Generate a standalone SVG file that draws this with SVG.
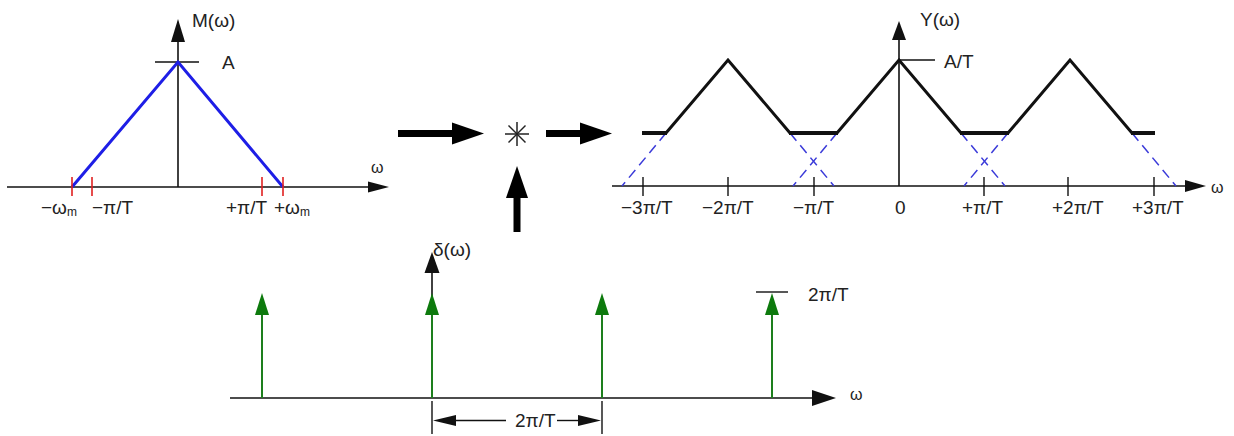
<svg xmlns="http://www.w3.org/2000/svg" width="1234" height="436" viewBox="0 0 1234 436">
<style>
text{font-family:"Liberation Sans",Arial,sans-serif;font-size:19px;fill:#222}
.ax{stroke:#111;stroke-width:1.6;fill:none}
.tk{stroke:#111;stroke-width:1.4}
.rd{stroke:#e02020;stroke-width:1.6}
.bl{stroke:#1e1ee6;stroke-width:3;fill:none}
.bk{stroke:#111;stroke-width:3;fill:none;stroke-linejoin:miter}
.ds{stroke:#3b3bd9;stroke-width:1.5;stroke-dasharray:10,6;fill:none}
.gr{stroke:#1d7f1d;stroke-width:2}
.grh{fill:#0d7a0d}
.ah{fill:#111}
.sm{font-size:16px}
</style>
<rect width="1234" height="436" fill="#fff"/>

<g id="plot-M">
  <line class="ax" x1="7" y1="187" x2="372" y2="187"/>
  <polygon class="ah" points="368,181.5 389,187 368,192.5"/>
  <line class="ax" x1="178" y1="187" x2="178" y2="40"/>
  <polygon class="ah" points="171,42 178,19 185,42"/>
  <line class="tk" x1="155" y1="62" x2="199" y2="62"/>
  <polyline class="bl" points="72,187 178,62 283,187"/>
  <line class="rd" x1="72" y1="177" x2="72" y2="196"/>
  <line class="rd" x1="92" y1="177" x2="92" y2="196"/>
  <line class="rd" x1="262" y1="177" x2="262" y2="196"/>
  <line class="rd" x1="283" y1="177" x2="283" y2="196"/>
  <text x="192" y="27">M(ω)</text>
  <text x="222" y="69">A</text>
  <text class="sm" x="371" y="173">ω</text>
  <text x="41" y="214">−ω<tspan font-size="12" dy="2">m</tspan></text>
  <text x="92" y="214">−π/T</text>
  <text x="226" y="214">+π/T</text>
  <text x="274" y="214">+ω<tspan font-size="12" dy="2">m</tspan></text>
</g>

<g id="operator">
  <line stroke="#222" stroke-width="1.5" x1="517" y1="122" x2="517" y2="146"/>
  <line stroke="#222" stroke-width="1.5" x1="505" y1="134" x2="529" y2="134"/>
  <line stroke="#222" stroke-width="1.5" x1="508.5" y1="125.5" x2="525.5" y2="142.5"/>
  <line stroke="#222" stroke-width="1.5" x1="525.5" y1="125.5" x2="508.5" y2="142.5"/>
</g>

<g id="connectors">
  <line stroke="#000" stroke-width="7" x1="398" y1="133.5" x2="455" y2="133.5"/>
  <polygon fill="#000" points="452,122.5 484,133.5 452,144.5"/>
  <line stroke="#000" stroke-width="7" x1="546" y1="133.5" x2="583" y2="133.5"/>
  <polygon fill="#000" points="580,122.5 612,133.5 580,144.5"/>
  <line stroke="#000" stroke-width="7" x1="517" y1="232" x2="517" y2="195"/>
  <polygon fill="#000" points="506,198 517,166 528,198"/>
</g>

<g id="plot-Y">
  <line class="ax" x1="612" y1="186" x2="1188" y2="186"/>
  <polygon class="ah" points="1185,180 1206,186 1185,192"/>
  <line class="ax" x1="899" y1="186" x2="899" y2="38"/>
  <polygon class="ah" points="892,40 899,21 906,40"/>
  <line class="tk" x1="899" y1="60" x2="935" y2="60"/>
  <line class="tk" x1="643" y1="177" x2="643" y2="196"/>
  <line class="tk" x1="728" y1="177" x2="728" y2="196"/>
  <line class="tk" x1="814" y1="177" x2="814" y2="196"/>
  <line class="tk" x1="984" y1="177" x2="984" y2="196"/>
  <line class="tk" x1="1068" y1="177" x2="1068" y2="196"/>
  <line class="tk" x1="1154" y1="177" x2="1154" y2="196"/>
  <line class="ds" x1="666" y1="133" x2="622" y2="186"/>
  <line class="ds" x1="790" y1="133" x2="834" y2="186"/>
  <line class="ds" x1="837" y1="133" x2="793" y2="186"/>
  <line class="ds" x1="961" y1="133" x2="1005" y2="186"/>
  <line class="ds" x1="1008" y1="133" x2="964" y2="186"/>
  <line class="ds" x1="1132" y1="133" x2="1176" y2="186"/>
  <polyline class="bk" points="666,133 728,60 790,133"/>
  <polyline class="bk" points="837,133 899,60 961,133"/>
  <polyline class="bk" points="1008,133 1070,60 1132,133"/>
  <line stroke="#111" stroke-width="4" x1="642" y1="133" x2="667" y2="133"/>
  <line stroke="#111" stroke-width="4" x1="789" y1="133" x2="838" y2="133"/>
  <line stroke="#111" stroke-width="4" x1="960" y1="133" x2="1009" y2="133"/>
  <line stroke="#111" stroke-width="4" x1="1131" y1="133" x2="1155" y2="133"/>
  <text x="920" y="26">Y(ω)</text>
  <text x="944" y="68">A/T</text>
  <text class="sm" x="1211" y="193">ω</text>
  <text x="621" y="214">−3π/T</text>
  <text x="702" y="214">−2π/T</text>
  <text x="793" y="214">−π/T</text>
  <text x="895" y="214">0</text>
  <text x="962" y="214">+π/T</text>
  <text x="1052" y="214">+2π/T</text>
  <text x="1132" y="214">+3π/T</text>
</g>

<g id="plot-delta">
  <line class="ax" x1="230" y1="398" x2="815" y2="398"/>
  <polygon class="ah" points="812,390 836,398 812,406"/>
  <line class="ax" x1="432" y1="398" x2="432" y2="270"/>
  <polygon class="ah" points="424.5,273 432,252 439.5,273"/>
  <line class="gr" x1="262" y1="398" x2="262" y2="312"/>
  <polygon class="grh" points="255,315 262,293 269,315"/>
  <line class="gr" x1="432" y1="398" x2="432" y2="312"/>
  <polygon class="grh" points="425,315 432,293 439,315"/>
  <line class="gr" x1="602" y1="398" x2="602" y2="312"/>
  <polygon class="grh" points="595,315 602,293 609,315"/>
  <line class="gr" x1="772" y1="398" x2="772" y2="312"/>
  <polygon class="grh" points="765,315 772,293 779,315"/>
  <line class="tk" x1="756" y1="292" x2="788" y2="292"/>
  <text x="433" y="256">δ(ω)</text>
  <text x="808" y="301">2π/T</text>
  <text class="sm" x="850" y="400">ω</text>
</g>

<g id="dimension">
  <line class="tk" x1="432" y1="401" x2="432" y2="434"/>
  <line class="tk" x1="602" y1="401" x2="602" y2="434"/>
  <polygon class="ah" points="433,420.5 456,415 456,426"/>
  <line class="tk" x1="454" y1="420.5" x2="506" y2="420.5"/>
  <line class="tk" x1="557" y1="420.5" x2="580" y2="420.5"/>
  <polygon class="ah" points="601,420.5 578,415 578,426"/>
  <text x="515" y="427">2π/T</text>
</g>
</svg>
